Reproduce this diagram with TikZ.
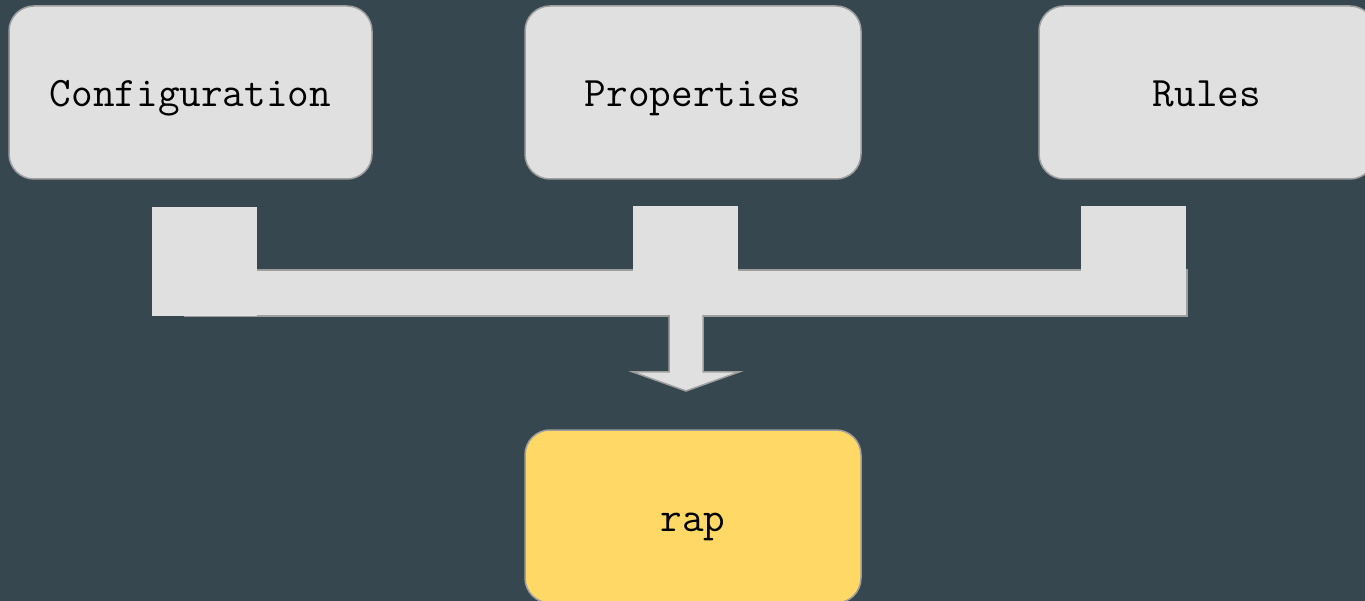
\documentclass[tikz,border=0pt]{standalone}
\usepackage{fontspec}
\definecolor{bg}{HTML}{37474F}
\definecolor{boxfill}{HTML}{E0E0E0}
\definecolor{boxline}{HTML}{9E9E9E}
\definecolor{outfill}{HTML}{FFD865}
\tikzset{
  card/.style={draw=boxline, fill=boxfill, line width=1.5pt, rounded corners=25pt,
    minimum width=336pt, minimum height=173pt, inner sep=0pt,
    text height=38pt, text depth=9pt,
    font=\ttfamily\fontsize{42}{46}\selectfont, text=black},
  joiner/.style={fill=boxfill},
  joinerline/.style={draw=boxline, line width=1.5pt},
}
\begin{document}
\begin{tikzpicture}[x=1pt, y=-1pt]
  \fill[bg] (0,0) rectangle (1365,601);
  \useasboundingbox (0,0) rectangle (1365,601);

  % source and target cards
  \node[card, minimum width=363pt] (config) at (190.5,92.5) {Configuration};
  \node[card] (props) at (693,92.5) {Properties};
  \node[card] (rules) at (1207,92.5) {Rules};
  \node[card, fill=outfill] (rap) at (693,516.5) {rap};

  % horizontal collector bar
  \draw[joiner, joinerline] (185,270) rectangle (1187,316);

  % downward arrow into rap
  \coordinate (stemL) at (669,315);
  \coordinate (stemR) at (703,315);
  \coordinate (tip) at (686,391);
  \fill[joiner] (stemL) -- (669,372) -- (633,372) -- (tip) -- (739,372) -- (703,372) -- (stemR) -- cycle;
  \draw[joinerline, line join=miter] (stemL) -- (669,372) -- (633,372) -- (tip) -- (739,372) -- (703,372) -- (stemR);

  % drop blocks under each source card
  \fill[joiner] (152,207) rectangle (257,316);
  \fill[joiner] (633,206) rectangle (738,272);
  \fill[joiner] (1081,206) rectangle (1186,272);
\end{tikzpicture}
\end{document}
